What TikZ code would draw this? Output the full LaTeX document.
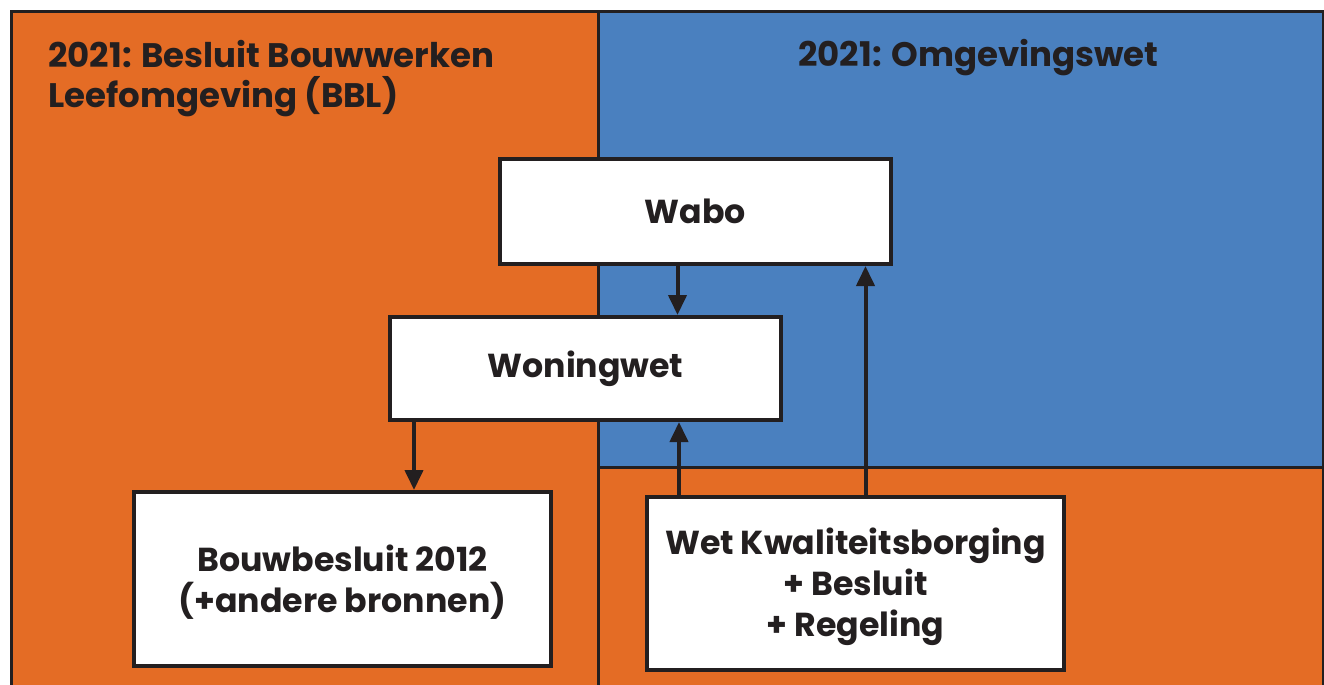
\documentclass[tikz,border=0pt]{standalone}
\usepackage{fontspec}
\setmainfont{Poppins}
\usetikzlibrary{arrows.meta,positioning}
\definecolor{oranje}{HTML}{E46C25}
\definecolor{blauw}{HTML}{4A80BF}
\definecolor{inkt}{HTML}{231F20}

\begin{document}
\begin{tikzpicture}[x=0.5pt,y=-0.5pt,
	wetbox/.style={draw=inkt, line width=2pt, fill=white, align=center, inner sep=0pt,
		font=\fontsize{16.6}{20.5}\selectfont\bfseries, text=inkt},
	kop/.style={inner sep=0pt, align=left, font=\fontsize{17}{20}\selectfont\bfseries, text=inkt},
	pijl/.style={draw=inkt, line width=2pt, -{Triangle[width=9pt,length=10pt]}},
	lijn/.style={draw=inkt, line width=1.5pt}]
	\useasboundingbox (0,0) rectangle (1324,685);
	\clip (0,0) rectangle (1324,685);
	% vlakken
	\fill[oranje] (11,11) rectangle (1323,700);
	\fill[blauw] (598,11) rectangle (1323,467);
	\draw[lijn] (11,700) -- (11,11) -- (1323,11) -- (1323,700);
	\draw[lijn] (598,11) -- (598,700);
	\draw[lijn] (598,467) -- (1323,467);
	% koppen
	\node[kop, anchor=base west] (bbl) at (48,107) {2021: Besluit Bouwwerken\\Leefomgeving (BBL)};
	\node[kop, anchor=base west] (ow) at (798,67) {2021: Omgevingswet};
	% wetten
	\node[wetbox, minimum width=195.5pt, minimum height=52.5pt] (wabo) at (695.5,211.5) {Wabo};
	\node[wetbox, minimum width=195.5pt, minimum height=51.5pt] (woningwet) at (585.5,368.5) {Woningwet};
	\node[wetbox, minimum width=208.5pt, minimum height=87pt] (bouwbesluit) at (342.5,579) {\rule{0pt}{16pt}Bouwbesluit 2012\\(+andere bronnen)};
	\node[wetbox, minimum width=208.5pt, minimum height=86.5pt] (wkb) at (855.5,583.5) {\rule{0pt}{17pt}Wet Kwaliteitsborging\\+ Besluit\\+ Regeling};
	% pijlen
	\draw[pijl] ([xshift=-9pt]wabo.south) -- ([xshift=-9pt]wabo.south |- woningwet.north);
	\draw[pijl] ([xshift=13pt]woningwet.south west) -- ([xshift=13pt]woningwet.south west |- bouwbesluit.north);
	\draw[pijl] ([xshift=17pt]wkb.north west) -- ([xshift=17pt]wkb.north west |- woningwet.south);
	\draw[pijl] ([xshift=5pt]wkb.north) -- ([xshift=5pt]wkb.north |- wabo.south);
\end{tikzpicture}
\end{document}
